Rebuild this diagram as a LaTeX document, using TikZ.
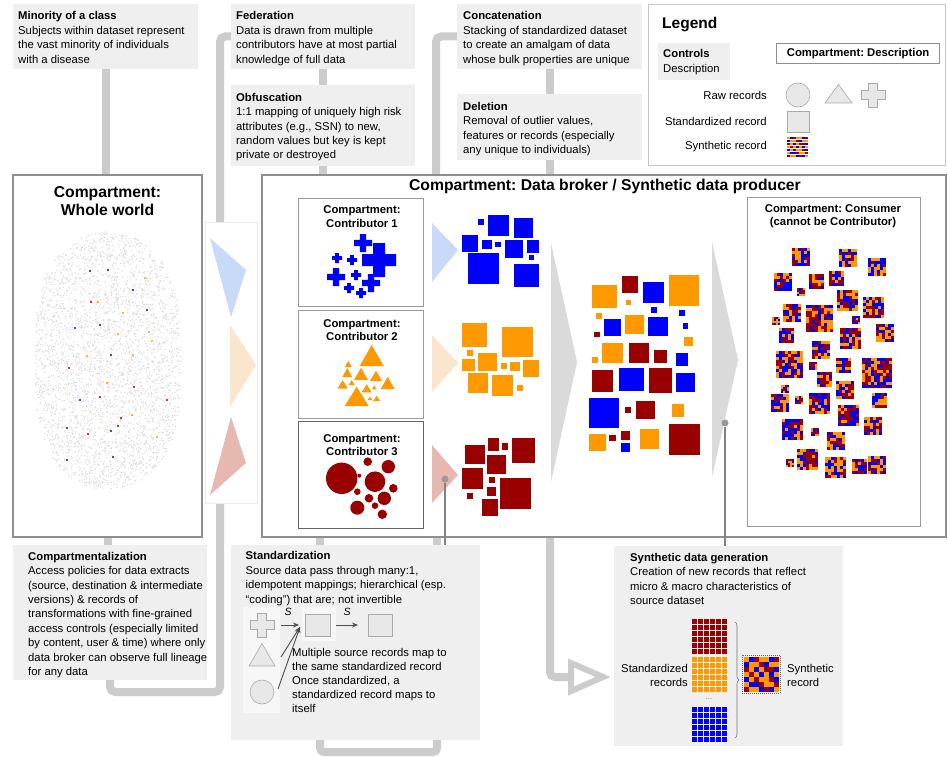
\documentclass[tikz,border=0pt]{standalone}
\usepackage{fontspec}
\setmainfont{Liberation Sans}
\usetikzlibrary{decorations.pathreplacing,arrows.meta}
\definecolor{blueC}{HTML}{0000FF}
\definecolor{orangeC}{HTML}{FF9900}
\definecolor{redC}{HTML}{990000}
\definecolor{lblue}{HTML}{C9DAF8}
\definecolor{lorange}{HTML}{FCE5CD}
\definecolor{lred}{HTML}{E6B8AF}
\definecolor{ctrlgray}{HTML}{EFEFEF}
\definecolor{conngray}{HTML}{CCCCCC}
\definecolor{chevgray}{HTML}{DADADA}
\definecolor{boxgray}{HTML}{8E8E8E}
\definecolor{subgray}{HTML}{9A9A9A}
\definecolor{rawfill}{HTML}{E8E8E8}
\definecolor{rawline}{HTML}{AAAAAA}
\definecolor{worlddot}{HTML}{DCDCDC}
\definecolor{pingray}{HTML}{999999}
\definecolor{lightbg}{HTML}{F7F7F7}
\colorlet{cO}{orangeC}\colorlet{cB}{blueC}\colorlet{cR}{redC}
\pgfdeclarelayer{back}
\pgfsetlayers{back,main}
\frenchspacing
\newcommand\bodyfont{\fontsize{11.3}{14.4}\selectfont}
% plus shape: style, cx, cy, half length, half arm
\newcommand\plusp[5]{\path[#1] ({#2-#5},{#3-#4}) -- ({#2+#5},{#3-#4}) -- ({#2+#5},{#3-#5}) -- ({#2+#4},{#3-#5}) -- ({#2+#4},{#3+#5}) -- ({#2+#5},{#3+#5}) -- ({#2+#5},{#3+#4}) -- ({#2-#5},{#3+#4}) -- ({#2-#5},{#3+#5}) -- ({#2-#4},{#3+#5}) -- ({#2-#4},{#3-#5}) -- ({#2-#5},{#3-#5}) -- cycle;}
% triangle: style, cx, apex y, base y, half width
\newcommand\trip[5]{\path[#1] (#2,#3) -- ({#2+#5},#4) -- ({#2-#5},#4) -- cycle;}
% synthetic record: x, y, cell, n
\newcommand\synrec[4]{%
  \fill[white] (#1,#2) rectangle ++({#3*#4},{#3*#4});
  \pgfmathtruncatemacro\srnm{#4-1}%
  \foreach \si in {0,...,\srnm}{\foreach \sj in {0,...,\srnm}{%
    \pgfmathrandominteger{\src}{1}{3}%
    \ifcase\src\or\def\srcol{orangeC}\or\def\srcol{blueC}\or\def\srcol{redC}\fi
    \fill[\srcol] ({#1+\si*#3},{#2+\sj*#3}) rectangle ++({#3-0.5},{#3-0.5});
  }}%
}
% fixed-pattern synthetic record: x, y, cell
\newcommand\fixrec[3]{%
  \fill[white] (#1,#2) rectangle ++({#3*7},{#3*7});
  \foreach \frow [count=\frj from 0] in {{O,B,R,O,O,B,R},{B,O,O,R,B,O,O},{R,O,B,O,R,R,B},{O,R,O,B,O,B,O},{B,O,R,O,O,R,B},{O,B,B,R,O,O,R},{R,O,O,B,R,B,O}}{%
    \foreach \frc [count=\fri from 0] in \frow {%
      \fill[c\frc] ({#1+\fri*#3},{#2+\frj*#3}) rectangle ++({#3-0.5},{#3-0.5});
    }}%
}
% uniform grid: x, y, cell, n, colour
\newcommand\gridrec[5]{%
  \pgfmathtruncatemacro\grnm{#4-1}%
  \foreach \gi in {0,...,\grnm}{\foreach \gj in {0,...,\grnm}{%
    \fill[#5] ({#1+\gi*#3},{#2+\gj*#3}) rectangle ++({#3-1},{#3-1});
  }}%
}
\begin{document}
\begin{tikzpicture}[x=1pt,y=-1pt,font=\bodyfont,
  ctrl/.style={fill=ctrlgray, anchor=north west, inner sep=0pt, outer sep=0pt},
  ctext/.style={anchor=north west, inner sep=0pt, align=left, font=\bodyfont},
  comp/.style={draw=boxgray, line width=1.3pt, fill=white, anchor=north west, inner sep=0pt, outer sep=0pt},
  subcomp/.style={draw=subgray, line width=1pt, fill=white, anchor=north west, inner sep=0pt, outer sep=0pt},
  conn/.style={draw=conngray, line width=8pt},
  pin/.style={circle, fill=pingray, inner sep=0pt, minimum size=7pt},
  pinline/.style={draw=pingray!85!black, line width=1.2pt},
  raw/.style={fill=rawfill, draw=rawline, line width=0.6pt},
  sarrow/.style={draw=black!70, line width=0.9pt, -{Stealth[length=6pt,width=5pt]}},
  ttl/.style={font=\bfseries\fontsize{15.7}{18}\selectfont, align=center, inner sep=0pt},
  subttl/.style={font=\bfseries\fontsize{11.3}{13.5}\selectfont, align=center, inner sep=0pt}]
\useasboundingbox (0,0) rectangle (948,757);
\pgfmathsetseed{314159}

% ---------- control boxes ----------
\node[ctrl, minimum width=185pt, minimum height=65pt] (minority) at (13,4) {};
\node[ctext] (minorityT) at (18,11.5) {\textbf{Minority of a class}\\Subjects within dataset represent\\the vast minority of individuals\\with a disease};
\node[ctrl, minimum width=184pt, minimum height=65pt] (federation) at (231,4) {};
\node[ctext] (federationT) at (236,11.5) {\textbf{Federation}\\Data is drawn from multiple\\contributors have at most partial\\knowledge of full data};
\node[ctrl, minimum width=184pt, minimum height=81pt] (obfus) at (231,85) {};
\node[ctext] (obfusT) at (236,93) {\textbf{Obfuscation}\\1:1 mapping of uniquely high risk\\attributes (e.g., SSN) to new,\\random values but key is kept\\private or destroyed};
\node[ctrl, minimum width=185pt, minimum height=65pt] (concat) at (457,4) {};
\node[ctext] (concatT) at (463,11.5) {\textbf{Concatenation}\\Stacking of standardized dataset\\to create an amalgam of data\\whose bulk properties are unique};
\node[ctrl, minimum width=185pt, minimum height=66pt] (deletion) at (457,94) {};
\node[ctext] (deletionT) at (463,102) {\textbf{Deletion}\\Removal of outlier values,\\features or records (especially\\any unique to individuals)};
\node[ctrl, minimum width=194pt, minimum height=135pt] (compart) at (13,545) {};
\node[ctext] (compartT) at (28,552) {\textbf{Compartmentalization}\\Access policies for data extracts\\(source, destination \& intermediate\\versions) \& records of\\transformations with fine-grained\\access controls (especially limited\\by content, user \& time) where only\\data broker can observe full lineage\\for any data};
\node[ctrl, minimum width=249pt, minimum height=195pt] (stdz) at (231,545) {};
\node[ctext] (stdzT) at (245.5,551.5) {\textbf{Standardization}\\Source data pass through many:1,\\idempotent mappings; hierarchical (esp.\\“coding”) that are; not invertible};
\node[ctrl, minimum width=229pt, minimum height=200pt] (syngen) at (614,546) {};
\node[ctext] (syngenT) at (630,553) {\textbf{Synthetic data generation}\\Creation of new records that reflect\\micro \& macro characteristics of\\source dataset};

% ---------- whole world ----------
\node[comp, minimum width=189pt, minimum height=362pt] (world) at (13,175) {};
\node[ttl] (worldT) at (107.5,201) {Compartment:\\Whole world};
\foreach \k in {1,...,3800}{%
  \pgfmathsetmacro\uu{rand}%
  \pgfmathsetmacro\vv{rand}%
  \pgfmathtruncatemacro\ok{(\uu*\uu+abs(\vv)*\vv*\vv)<1 ? 1 : 0}%
  \ifnum\ok=1 \fill[worlddot] ({108+73*\uu},{361+129*\vv}) circle (0.75);\fi
}
\foreach \x/\y in {90/271,108/270,133/290,147/310,75/328,100/325,111/355,80/400,111/431,67/460,113/457}
  \fill[blueC] (\x,\y) circle (1.1);
\foreach \x/\y in {145/278,98/302,123/313,118/334,149/332,152/341,87/356,133/355,107/383,132/415,157/437}
  \fill[orangeC] (\x,\y) circle (1.1);
\foreach \x/\y in {91/302,69/368,100/397,134/387,167/400,121/418,118/426,67/428,88/434}
  \fill[redC] (\x,\y) circle (1.1);

% ---------- legend ----------
\node[draw=black!22, line width=1.2pt, fill=white, anchor=north west, inner sep=0pt, minimum width=297pt, minimum height=161pt] (legend) at (648,4) {};
\node[anchor=west, inner sep=0pt, font=\bfseries\fontsize{15.5}{18}\selectfont] (legT) at (662,25) {Legend};
\node[ctrl, minimum width=72pt, minimum height=37pt] (legctrl) at (658,43) {};
\node[ctext] (legctrlT) at (663,49.5) {\textbf{Controls}\\Description};
\node[draw=boxgray, line width=1.2pt, fill=white, anchor=north west, inner sep=0pt, minimum width=163pt, minimum height=20pt, font=\bfseries\fontsize{11.3}{13}\selectfont] (legcomp) at (776,43) {Compartment: Description};
\node[anchor=east, inner sep=0pt] (legraw) at (767,95) {Raw records};
\node[anchor=east, inner sep=0pt] (legstd) at (767,121) {Standardized record};
\node[anchor=east, inner sep=0pt] (legsyn) at (767,147) {Synthetic record};
\draw[raw] (798,95) circle (12);
\draw[raw] (838.5,84.5) -- (852,103) -- (825,103) -- cycle;
\plusp{raw}{873}{95}{12}{4.5}
\draw[raw] (787,111) rectangle (809,132);
\fixrec{787}{137}{3}

% ---------- triangle panel ----------
\node[draw=black!8, line width=0.8pt, fill=white, anchor=north west, inner sep=0pt, minimum width=52pt, minimum height=281pt] (tripanel) at (205,222) {};
\fill[lblue] (210,238) -- (246,270) -- (231,317) -- cycle;
\fill[lorange] (230,325) -- (256,365) -- (230,407) -- cycle;
\fill[lred] (231,417) -- (246,463) -- (210,495) -- cycle;

% ---------- data broker ----------
\node[comp, minimum width=684pt, minimum height=362pt] (broker) at (262,175) {};
\node[ttl] (brokerT) at (605,186.5) {Compartment: Data broker / Synthetic data producer};
\node[subcomp, minimum width=125pt, minimum height=108pt] (c1) at (298,198) {};
\node[subttl] (c1T) at (362,216.5) {Compartment:\\Contributor 1};
\node[subcomp, minimum width=125pt, minimum height=108pt] (c2) at (298,310) {};
\node[subttl] (c2T) at (362,330) {Compartment:\\Contributor 2};
\node[subcomp, draw=black!60, minimum width=125pt, minimum height=107pt] (c3) at (298,421) {};
\node[subttl] (c3T) at (362,445) {Compartment:\\Contributor 3};
\foreach \cx/\cy/\h/\a in {363/243/9/3.2, 379/260/17/6, 337/258/5/1.8, 352/260/5/1.8, 336/277/9/3.2, 356/275/5/1.8, 371/283/9/3.2, 349/288/5/1.8, 361/293/5/1.8}
  {\plusp{fill=blueC}{\cx}{\cy}{\h}{\a}}
\foreach \cx/\ay/\by/\hw in {371.7/345/366/12, 348.3/361/367/3.5, 347.3/368/377/5, 361/367.7/380/7, 376/370.7/381/6, 342.7/380/388.5/5, 351.7/380/385/3, 366.7/384.3/392.3/5, 374.3/385.7/389.3/2.5, 387.7/376.7/389/7, 356.7/386.7/406/12, 370/396.7/400/2.5, 376.7/395.7/401/3.5}
  {\trip{fill=orangeC}{\cx}{\ay}{\by}{\hw}}
\foreach \cx/\cy/\r in {341.7/478.3/15.7, 367.7/461.7/4.3, 388.3/466.7/6.7, 359.3/475.7/2, 375/481.7/10.3, 393.3/488.3/4.3, 357.3/491.7/3.3, 369/498.3/4.3, 384.3/498.3/6.7, 357.3/507.7/7, 375/505.7/3.3, 382.3/514.3/4.7}
  \fill[redC] (\cx,\cy) circle (\r);
% small arrows
\fill[lblue] (432,223) -- (458,250) -- (432,282) -- cycle;
\fill[lorange] (432,335) -- (458,363) -- (432,392) -- cycle;
\fill[lred] (432,445) -- (458,475) -- (432,503) -- cycle;
% standardized clusters
\foreach \a/\b/\c/\d in {478.3/219.3/484/225, 488.3/215/509.3/236, 514/218.3/532.7/237.7, 462.3/235/478.3/251.7, 481.7/240/491.7/249.3, 495/241.7/500.7/247.3, 505/240/523.3/258.3, 526.7/240/539.3/252.7, 529.3/255/534/260, 468.3/253.3/499.3/284, 514/264/539.3/287.3}
  \fill[blueC] (\a,\b) rectangle (\c,\d);
\foreach \a/\b/\c/\d in {462.3/323.3/487.3/346.7, 502.3/327.3/532.7/357.3, 467.3/350/473.3/356, 462.3/359/475/371, 478.3/352.7/497.3/371, 500.7/362.7/506.7/369.3, 510/361.7/520/371, 523.3/360/539.3/376.7, 468.3/373.3/488.3/392.7, 492.3/375/513.3/396, 517.3/385/523.3/390.7}
  \fill[orangeC] (\a,\b) rectangle (\c,\d);
\foreach \a/\b/\c/\d in {465/445/485/464, 488.3/438.3/499.3/450.7, 501.7/443.3/508.3/450, 511.7/438.3/535/463.3, 486.7/455/506/474, 462.3/468.3/482.7/489.3, 489/477.3/495/483.3, 486.7/486.7/496/496, 500/478.3/530.7/509.3, 466.7/493.3/472.7/499.3, 481.7/499.3/498.3/516}
  \fill[redC] (\a,\b) rectangle (\c,\d);
% big chevrons
\fill[chevgray] (551,243) -- (577,362) -- (551,482) -- cycle;
\fill[chevgray] (712,242) -- (738,360) -- (712,477) -- cycle;
% concatenated mix
\foreach \cc/\a/\b/\c/\d in {cO/591.7/285/616.7/308.3, cR/621.7/276/638.3/292.7, cB/643.3/282.3/664/303.3, cO/669/275/699.3/306, cO/626/300/630.7/305, cB/650.7/306.7/656.7/312.7, cB/679.3/310/685/315.7, cO/596/313.3/601.7/319, cB/604.3/319/621/335.7, cO/625/315/644.3/334, cB/647.7/316.7/667.7/336, cB/682.7/323.3/688.3/329, cR/594/331.7/600/337.3, cO/684/336.7/693.3/345.7, cO/602.3/342.7/623.3/363.3, cR/629.3/343.3/649.3/363.3, cR/654/350/666.7/362.7, cO/591.7/357.3/598.3/363.3, cB/675.7/353.3/688.3/366, cR/591.7/370/613.3/391.7, cB/619.3/367.7/644.3/390.7, cR/649/367.7/672.3/392.7, cB/676/372.7/695/391.7, cB/589/397.7/619.3/428.3, cR/625/407.3/630.7/413.3, cR/636/400.7/655/419.3, cO/671.7/404.3/684/416.7, cO/589/434.3/605.7/450.7, cR/609.3/435/616/440.7, cR/621/431/630/440, cB/621/443.3/630/452.3, cO/640/429.3/659.3/449.3, cR/669.3/424/700/455}
  \fill[\cc] (\a,\b) rectangle (\c,\d);

% ---------- consumer ----------
\node[subcomp, minimum width=173pt, minimum height=329pt] (consumer) at (747,197) {};
\node[subttl] (consumerT) at (833,216) {Compartment: Consumer\\(cannot be Contributor)};
\foreach \x/\y/\s in {791.7/248.3/19.3, 839/249/18.3, 868.3/258.3/17.3, 774.3/273.3/17.3, 809/274/16, 829.3/270.7/14.3, 797.3/288.3/7.3, 836.7/290/21.7, 863.3/296.7/20.7, 783.3/304/17.3, 805.7/305/28.3, 772.3/316.7/7.3, 852.3/315.7/7.3, 779.3/328.3/15, 840/328.3/21.7, 875.7/324.3/19.3, 811.7/340.7/16.7, 775.7/351/28.3, 809.3/362.3/7.3, 835.7/357.7/15, 862.3/358.3/29.3, 817.3/372.3/14, 781/385/7.3, 835.7/381/19.3, 771/394.3/19.3, 795/396/8.3, 809.3/393.3/21.7, 871.7/392.7/15, 837.7/405/21.7, 782.3/419/20.7, 810.7/428.3/8.3, 864.3/416.7/19.3, 826.7/431.7/19.3, 785.7/459/8.3, 797.3/449.3/21.7, 825/456.7/21.7, 852.3/459/15, 868.3/456/16.7}
  {\pgfmathtruncatemacro\xx{round(\x)}\pgfmathtruncatemacro\yy{round(\y)}%
   \pgfmathtruncatemacro\cl{\s<10 ? 2 : 3}%
   \pgfmathtruncatemacro\nn{round(\s/\cl)}%
   \synrec{\xx}{\yy}{\cl}{\nn}}

% ---------- pins ----------
\node[pin] (pinA) at (445,479) {};
\node[pin] (pinB) at (725,423) {};
\draw[pinline] (pinA) -- (pinA |- stdz.north);
\draw[pinline] (pinB) -- (pinB |- syngen.north);

% ---------- standardization contents ----------
\fill[lightbg] (243,607) rectangle (280,641);
\fill[lightbg] (243,641) rectangle (280,677);
\fill[lightbg] (243,677) rectangle (280,713);
\fill[lightbg] (302,607) rectangle (336,641);
\plusp{raw}{262}{625}{12}{4.5}
\draw[raw] (305,614) rectangle (330,636);
\draw[raw] (368,614) rectangle (392,636);
\draw[raw] (262,643.5) -- (275,666) -- (249,666) -- cycle;
\draw[raw] (262,692) circle (12);
\coordinate (sq1) at (300,627);
\draw[sarrow] (281,625) -- (299,625);
\node[inner sep=0pt, font=\itshape\fontsize{10.5}{12}\selectfont] (s1) at (288,612) {S};
\draw[sarrow] (336,625) -- (358,625);
\node[inner sep=0pt, font=\itshape\fontsize{10.5}{12}\selectfont] (s2) at (347,612) {S};
\draw[sarrow] (281,657) -- (sq1);
\draw[sarrow] (278,689) -- (sq1);
\node[ctext, font=\fontsize{11.3}{14}\selectfont] (stdzNote) at (292,648.5) {Multiple source records map to\\the same standardized record\\Once standardized, a\\standardized record maps to\\itself};

% ---------- synthetic generation contents ----------
\gridrec{692}{619}{6}{6}{redC}
\gridrec{692}{657}{6}{6}{orangeC}
\gridrec{692}{707}{6}{6}{blueC}
\node[inner sep=0pt, text=black!50, font=\fontsize{8}{8}\selectfont] (dots) at (709,699) {...};
\draw[draw=black!55, line width=0.6pt, decorate, decoration={brace, amplitude=4pt}] (735,622) -- (735,738);
\draw[black!60, line width=0.6pt, dash pattern=on 1pt off 1pt] (742,655) rectangle (780,693);
\fixrec{744}{657}{5}
\node[anchor=east, align=right, inner sep=0pt] (stdrecT) at (688,675.5) {Standardized\\records};
\node[anchor=west, align=left, inner sep=0pt] (synrecT) at (787,675.5) {Synthetic\\record};

% hollow arrowhead into synthetic generation
\coordinate (bA) at (550,537);
\coordinate (bB) at (571,677);
\draw[conngray, line width=6pt, fill=white, line join=miter] (571,663) -- (603,677) -- (571,691) -- cycle;

% ---------- connectors (behind) ----------
\begin{pgfonlayer}{back}
\fill[white] (0,0) rectangle (948,757);
\coordinate (loopA) at (220,692);
\coordinate (catDrop) at (436,175);
\coordinate (sA) at (320,545);
\coordinate (sB) at (437,545);
\coordinate (sC) at (320,740);
\coordinate (sD) at (437,740);
\coordinate (sE) at (378,752);
\draw[conn] (minority.south) -- (minority.south |- world.north);
\draw[conn] (world.south) -- (world.south |- compart.north);
\draw[conn, rounded corners=5pt] (compart.south) |- (loopA) |- (federation.west);
\draw[conn] (federation.south) -- (federation.south |- obfus.north);
\draw[conn] (obfus.south) -- (obfus.south |- broker.north);
\draw[conn, rounded corners=5pt] (concat.west) -| (catDrop);
\draw[conn] (concat.south) -- (concat.south |- deletion.north);
\draw[conn] (deletion.south) -- (deletion.south |- broker.north);
\draw[conn] (sA |- broker.south) -- (sA);
\draw[conn] (sB |- broker.south) -- (sB);
\draw[conn, rounded corners=4pt] (sC) |- (sE) -| (sD);
\draw[conn, rounded corners=5pt] (bA) |- (bB);
\end{pgfonlayer}
\end{tikzpicture}
\end{document}
